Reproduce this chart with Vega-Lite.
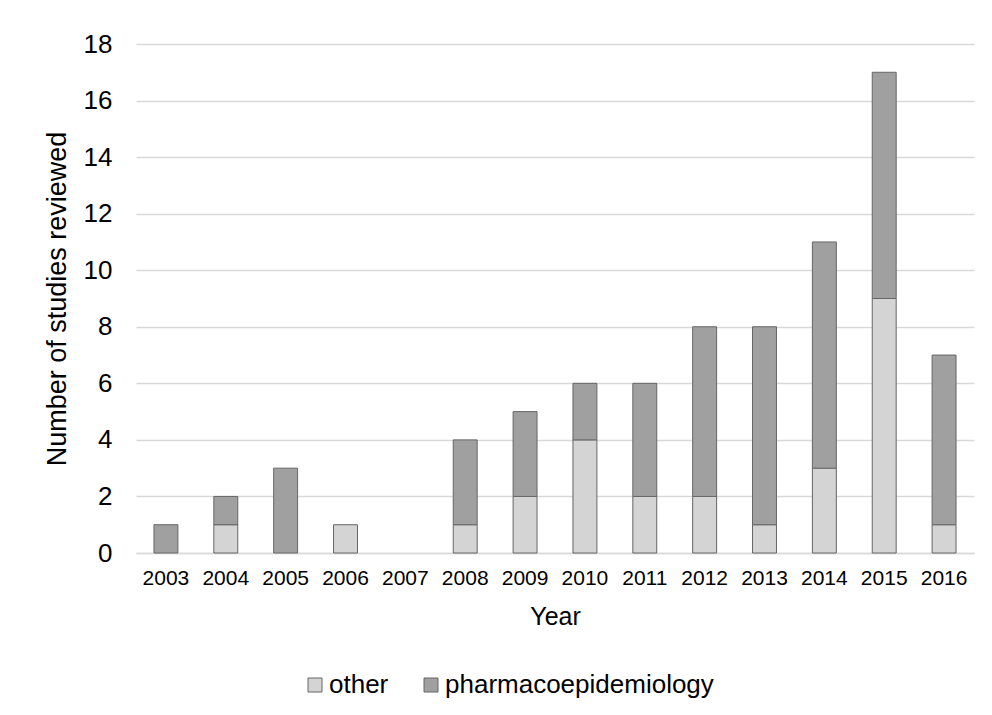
{
  "$schema": "https://vega.github.io/schema/vega-lite/v6.json",
  "autosize": "none",
  "width": 838,
  "height": 509,
  "padding": {"left": 136, "top": 44, "right": 18, "bottom": 162},
  "background": "white",
  "config": {
    "font": "Liberation Sans",
    "view": {"stroke": null},
    "axis": {"labelColor": "#000", "titleColor": "#000", "titleFontWeight": "normal", "labelFont": "Liberation Sans", "titleFont": "Liberation Sans"},
    "legend": {"labelColor": "#000", "labelFont": "Liberation Sans"}
  },
  "data": {
    "values": [
      {"year": "2003", "type": "pharmacoepidemiology", "count": 1},
      {"year": "2004", "type": "other", "count": 1},
      {"year": "2004", "type": "pharmacoepidemiology", "count": 1},
      {"year": "2005", "type": "pharmacoepidemiology", "count": 3},
      {"year": "2006", "type": "other", "count": 1},
      {"year": "2008", "type": "other", "count": 1},
      {"year": "2008", "type": "pharmacoepidemiology", "count": 3},
      {"year": "2009", "type": "other", "count": 2},
      {"year": "2009", "type": "pharmacoepidemiology", "count": 3},
      {"year": "2010", "type": "other", "count": 4},
      {"year": "2010", "type": "pharmacoepidemiology", "count": 2},
      {"year": "2011", "type": "other", "count": 2},
      {"year": "2011", "type": "pharmacoepidemiology", "count": 4},
      {"year": "2012", "type": "other", "count": 2},
      {"year": "2012", "type": "pharmacoepidemiology", "count": 6},
      {"year": "2013", "type": "other", "count": 1},
      {"year": "2013", "type": "pharmacoepidemiology", "count": 7},
      {"year": "2014", "type": "other", "count": 3},
      {"year": "2014", "type": "pharmacoepidemiology", "count": 8},
      {"year": "2015", "type": "other", "count": 9},
      {"year": "2015", "type": "pharmacoepidemiology", "count": 8},
      {"year": "2016", "type": "other", "count": 1},
      {"year": "2016", "type": "pharmacoepidemiology", "count": 6}
    ]
  },
  "mark": {"type": "bar", "stroke": "#666666", "strokeWidth": 1},
  "encoding": {
    "x": {
      "field": "year",
      "type": "nominal",
      "scale": {"domain": ["2003","2004","2005","2006","2007","2008","2009","2010","2011","2012","2013","2014","2015","2016"], "paddingInner": 0.6, "paddingOuter": 0.3},
      "axis": {
        "title": "Year",
        "labelAngle": 0,
        "labelFontSize": 21,
        "titleFontSize": 25,
        "labelPadding": 14,
        "titlePadding": 16,
        "ticks": false,
        "domainColor": "#d9d9d9",
        "domainWidth": 1.5,
        "grid": false
      }
    },
    "y": {
      "field": "count",
      "type": "quantitative",
      "stack": "zero",
      "scale": {"domain": [0, 18]},
      "axis": {
        "title": "Number of studies reviewed",
        "values": [0,2,4,6,8,10,12,14,16,18],
        "labelFontSize": 26,
        "titleFontSize": 27,
        "labelPadding": 24,
        "titlePadding": 12,
        "ticks": false,
        "domain": false,
        "grid": true,
        "gridColor": "#d9d9d9",
        "gridWidth": 1.5
      }
    },
    "color": {
      "field": "type",
      "type": "nominal",
      "scale": {"domain": ["other", "pharmacoepidemiology"], "range": ["#d4d4d4", "#a0a0a0"]},
      "legend": {
        "title": null,
        "orient": "none",
        "direction": "horizontal",
        "legendX": 166,
        "legendY": 628,
        "padding": 0,
        "symbolType": "square",
        "symbolSize": 196,
        "symbolStrokeColor": "#666666",
        "symbolStrokeWidth": 1,
        "symbolOpacity": 1,
        "labelFontSize": 26,
        "labelOffset": 1,
        "labelLimit": 0,
        "columnPadding": 29
      }
    },
    "order": {"field": "type", "sort": "ascending"}
  }
}
